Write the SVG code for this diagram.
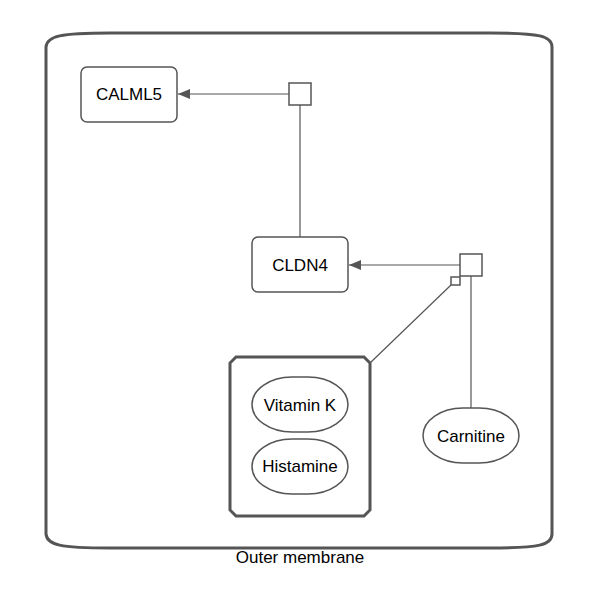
<svg xmlns="http://www.w3.org/2000/svg" width="600" height="600" viewBox="0 0 600 600">
<style>
text{font-family:"Liberation Sans",Arial,sans-serif;font-size:17px;fill:#000;text-anchor:middle}
.node{fill:#fff;stroke:#555;stroke-width:1.5}
.edge{fill:none;stroke:#555;stroke-width:1.2}
.comp{fill:#fff;stroke:#555;stroke-width:3}
</style>
<defs>
<marker id="arr" markerWidth="12" markerHeight="10" refX="12" refY="5" orient="auto" markerUnits="userSpaceOnUse">
<path d="M0,0 L12,5 L0,10 Z" fill="#555"/>
</marker>
</defs>
<g id="outer-membrane">
<path class="comp" d="M46,47 C47,36 60,33 110,33 L490,33 C540,33 552,36 552,47 L552,534 C552,545 540,548 490,548 L110,548 C60,548 47,545 46,534 Z"/>
<text x="300" y="563">Outer membrane</text>
</g>
<g id="complex">
<path class="comp" d="M236,357 L364,357 L370,363 L370,510 L364,516 L236,516 L230,510 L230,363 Z"/>
</g>
<g id="edges">
<line class="edge" x1="289" y1="94" x2="178" y2="94" marker-end="url(#arr)"/>
<line class="edge" x1="300" y1="105" x2="300" y2="237"/>
<line class="edge" x1="460" y1="265" x2="349" y2="265" marker-end="url(#arr)"/>
<line class="edge" x1="451" y1="285" x2="370" y2="363"/>
<line class="edge" x1="471" y1="276" x2="471" y2="408"/>
</g>
<g id="process1"><rect class="node" x="289" y="83" width="22" height="22" stroke-width="1.2"/></g>
<g id="process2"><rect class="node" x="460" y="254" width="22" height="22" stroke-width="1.2"/><rect class="node" x="451" y="277" width="9" height="8" stroke-width="1"/></g>
<g id="CALML5"><rect class="node" x="81" y="67" width="96" height="55" rx="6"/><text x="129" y="100">CALML5</text></g>
<g id="CLDN4"><rect class="node" x="252" y="237" width="96" height="55" rx="6"/><text x="300" y="271">CLDN4</text></g>
<g id="VitaminK"><rect class="node" x="252" y="377" width="96" height="55" rx="40" ry="27.5"/><text x="300" y="411">Vitamin K</text></g>
<g id="Histamine"><rect class="node" x="252" y="439" width="96" height="55" rx="40" ry="27.5"/><text x="300" y="472">Histamine</text></g>
<g id="Carnitine"><rect class="node" x="423" y="408" width="96" height="55" rx="40" ry="27.5"/><text x="471" y="442">Carnitine</text></g>
</svg>
